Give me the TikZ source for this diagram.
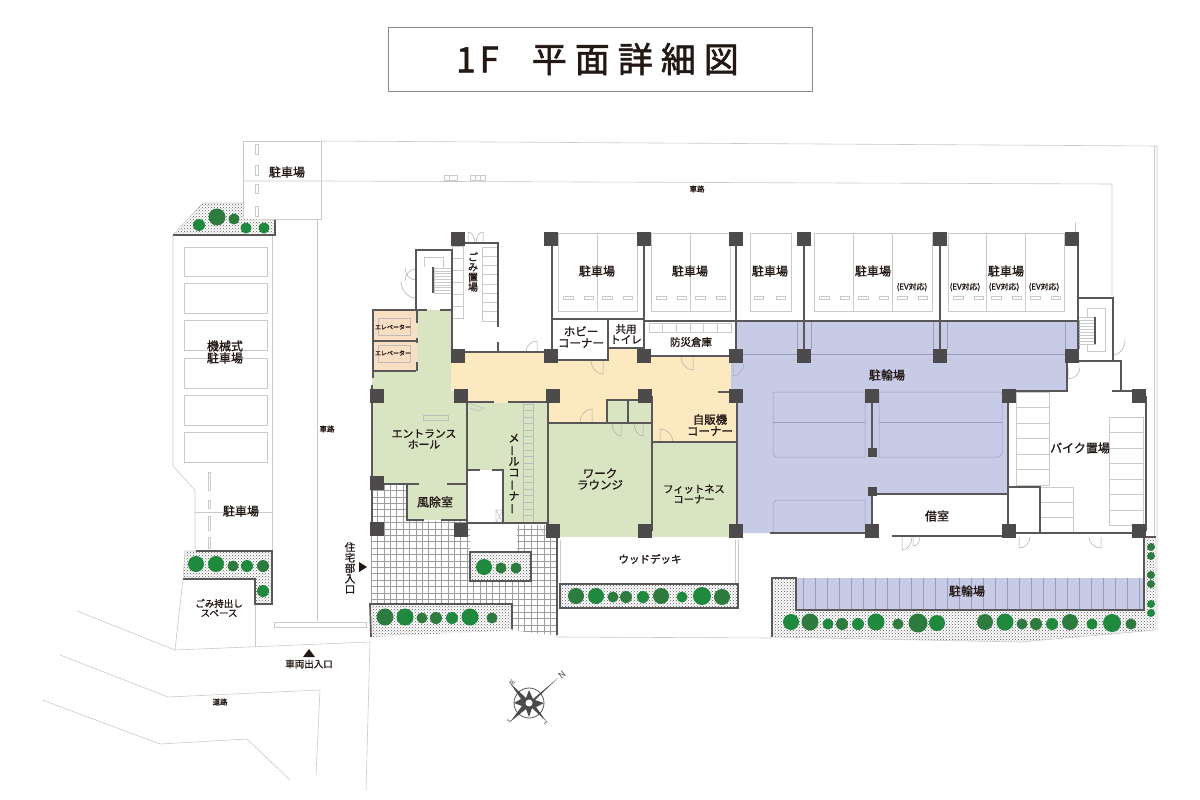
\documentclass[tikz,border=0pt]{standalone}
\usepackage{fontspec}
\usetikzlibrary{patterns}
\setmainfont{Noto Sans CJK JP}
\newfontfamily\jp[FakeBold=1.2]{Noto Sans CJK JP}
\newfontfamily\titlefont[FakeBold=1.6]{Noto Sans CJK JP}
\definecolor{wallc}{HTML}{595757}
\definecolor{pilc}{HTML}{4C4A4A}
\definecolor{lightl}{HTML}{C9CACA}
\definecolor{greenf}{HTML}{D8E4C2}
\definecolor{yellowf}{HTML}{FCE9C0}
\definecolor{peachf}{HTML}{F8DEC2}
\definecolor{lavf}{HTML}{C7CBE5}
\definecolor{lavl}{HTML}{9A9DBB}
\definecolor{treeA}{HTML}{1F8A3D}
\definecolor{treeB}{HTML}{2E7B3F}
\definecolor{ink}{HTML}{231815}
\tikzset{
  wall/.style={draw=wallc,line width=1.7pt},
  thin line/.style={draw=lightl,line width=.6pt},
  doorl/.style={draw=lightl!85!black,line width=.5pt},
  lavline/.style={draw=lavl,line width=.5pt},
  planter/.style={fill=white,postaction={pattern=crosshatch dots,pattern color=gray!70!black}},
  lab/.style={font=\jp\fontsize{#1}{#1}\selectfont,text=ink,align=center,inner sep=0pt},
  lab/.default=12,
}
\newcommand{\pil}[3]{\fill[pilc] ({#1-#3/2},{#2-#3/2}) rectangle ({#1+#3/2},{#2+#3/2});}
\newcommand{\dr}[4]{\draw[doorl] (#1,#2) -- (#1,{#2+#4}) .. controls ({#1+.55*#3},{#2+#4}) and ({#1+#3},{#2+.55*#4}) .. ({#1+#3},#2);}
\newcommand{\vb}{\rotatebox[origin=c]{90}{ー}}
\begin{document}
\begin{tikzpicture}[x=1pt,y=-1pt]
\path[use as bounding box,fill=white] (0,0) rectangle (1200,800);

% title
\node[draw=wallc!70,line width=.7pt,minimum width=424pt,minimum height=64pt,inner sep=0pt] (titlebox) at (600,59) {};
\node[inner sep=0pt,text=ink] (title) at (597.5,59) {\titlefont\fontsize{35}{35}\selectfont 1\hspace{4pt}F\hspace{33pt}平\hspace{8pt}面\hspace{8pt}詳\hspace{8pt}細\hspace{8pt}図};

% site / road light lines
\draw[thin line] (321,141) -- (1157,146) -- (1157,630);
\draw[thin line] (1154,146) -- (1154,537);
\draw[thin line] (243,141) rectangle (321,219);
\draw[thin line] (243,181) -- (321,181) -- (1112,184) -- (1112,298);
\draw[thin line] (1075,222) -- (1075,238);
\foreach \a/\b in {144/154,165/175,184/193,206/216}{\draw[thin line] (255.5,\a) rectangle (258,\b);}
\draw[thin line] (444,175) rectangle (457,180) (449,175)--(449,180);
\draw[thin line] (470,175) rectangle (485,180) (475,175)--(475,180) (480,175)--(480,180);
\draw[thin line] (317,219) -- (317,621);
\draw[thin line] (274,622) rectangle (366,627);
\draw[thin line] (173,235) -- (173,466) -- (195,490) -- (195,551);
\draw[thin line] (272,235) -- (272,551);
\draw[thin line] (195,512.5) -- (272,512.5);
\foreach \a/\b in {247/276,283/313,320/350,358/388,395/425,432/462}{\draw[thin line] (184,\a) rectangle (267,\b);}
\foreach \a/\b in {472/490,500/508,516/530,537/548}{\draw[thin line] (208,\a) rectangle (210,\b);}
\draw[thin line] (183,579) -- (175,650) -- (370,642) -- (366,790);
\draw[thin line] (255,579) -- (255,647);
\draw[thin line] (77,611) -- (175,650);
\draw[thin line] (60,655) -- (168,697) -- (320,690) -- (316,775);
\draw[thin line] (42,700) -- (160,744) -- (247,739) -- (290,780);
\draw[thin line] (557,637) -- (772,638);
\draw[thin line] (560,540) -- (560,582) (735,540) -- (735,584) (738,540) -- (738,584);

% tile
\begin{scope}
\clip (371,484) -- (407,484) -- (407,521) -- (470,521) -- (470,552) -- (517,552) -- (517,525) -- (548,525) -- (548,537) -- (557,537) -- (557,636) -- (512,630) -- (371,637) -- cycle;
\foreach \g in {0,...,30}{\draw[gray!75,line width=.3pt] ({371+\g*6.4},480) -- ({371+\g*6.4},640);}
\foreach \g in {0,...,25}{\draw[gray!75,line width=.3pt] (365,{484+\g*6.4}) -- (560,{484+\g*6.4});}
\end{scope}

% colour areas
\fill[yellowf] (451,352) -- (551,352) -- (551,360) -- (608,360) -- (608,349) -- (644,349) -- (644,356) -- (731,356) -- (731,389) -- (736,389) -- (736,442) -- (652,442) -- (652,423) -- (548,423) -- (548,403) -- (468,403) -- (468,389) -- (451,389) -- cycle;
\fill[greenf] (417,310) -- (451,310) -- (451,391) -- (467,391) -- (467,484) -- (372,484) -- (372,371) -- (417,371) -- cycle;
\fill[peachf] (373,310) rectangle (417,371);
\fill[greenf] (468,403) rectangle (548,523);
\fill[white] (468,470) rectangle (503,523);
\fill[greenf] (548,423) rectangle (652,537);
\fill[greenf] (652,442) rectangle (736,537);
\fill[greenf] (607,400) rectangle (652,423);
\fill[greenf] (407,484) rectangle (467,520);
\fill[lavf] (731,356) -- (737,356) -- (737,321) -- (1078,321) -- (1078,361) -- (1067,361) -- (1067,390) -- (1009,390) -- (1009,494) -- (872,494) -- (872,533) -- (737,533) -- (737,389) -- (731,389) -- cycle;
\fill[lavf] (797,578) rectangle (1144,610);
\foreach \g in {0,...,28}{\draw[lavl,line width=.4pt] ({803+\g*12},578) -- ({803+\g*12},610);}

% lavender details
\draw[lavline] (737,354) -- (1066,354);
\draw[lavline] (773,454) -- (773,392) -- (865,392) -- (865,457) -- (776,457) -- (773,454);
\draw[lavline] (773,422) -- (865,422);
\draw[lavline] (879,392) -- (1002,392) -- (1002,454) -- (999,457) -- (879,457) -- cycle;
\draw[lavline] (879,422) -- (1002,422);
\draw[lavline] (773,533) -- (773,503) -- (776,500) -- (865,500) -- (865,533);
\foreach \a in {804,940,1072}{\draw[lavline] ({\a-7},321) -- ({\a-7},349) ({\a+7},321) -- ({\a+7},349);}
\draw[lavline] (1002,403) -- (1002,390);

% parking bays
\foreach \a/\b in {558/597,597/637,651/690,690/730,750/791,814/853,853/892,892/932,948/986,986/1025,1025/1064}{
  \draw[thin line] (\a,233) rectangle (\b,311);
}
\foreach \a in {558,651,814,853,892,948,986,1025}{
  \draw[thin line] ({\a+5},296) rectangle ({\a+15},299);
  \draw[thin line] ({\a+26},296) rectangle ({\a+35},299);
}
\foreach \a in {597,690}{
  \draw[thin line] ({\a+5},296) rectangle ({\a+15},299);
  \draw[thin line] ({\a+26},296) rectangle ({\a+35},299);
}
\draw[thin line] (754,296) rectangle (763,299) (776,296) rectangle (785,299);

% storage shelves
\draw[thin line] (649,323) rectangle (731,332);
\foreach \g in {1,...,5}{\draw[thin line] ({649+\g*13.6},323) -- ({649+\g*13.6},332);}

% elevators inner
\draw[thin line,draw=wallc!40] (378,318) rectangle (410,335);
\draw[thin line,draw=wallc!40] (378,345) rectangle (410,362);

% stairs NW
\draw[thin line] (434,268) rectangle (452,293);
\foreach \g in {1,...,8}{\draw[thin line] (434,{268+\g*2.8}) -- (452,{268+\g*2.8});}
\draw[thin line] (424,267) -- (424,257) -- (443,257) -- (443,268);
\draw[wall,line width=1.2pt] (433,267) -- (433,293);
% garbage shelves
\draw[thin line] (482,247) rectangle (497,321);
\foreach \g in {1,...,7}{\draw[thin line] (482,{247+\g*9.25}) -- (497,{247+\g*9.25});}
\draw[thin line] (452,246) rectangle (463,318);
\foreach \g in {1,...,5}{\draw[thin line] (452,{246+\g*12}) -- (463,{246+\g*12});}
% mail ladder
\draw[thin line,draw=wallc!40] (523,404) rectangle (533,522);
\foreach \g in {1,...,17}{\draw[thin line,draw=wallc!40] (523,{404+\g*6.55}) -- (533,{404+\g*6.55});}
\draw[thin line] (496,510) rectangle (503,523) (496,510) -- (503,523) (503,510) -- (496,523);
\draw[thin line,draw=wallc!40] (423,415) rectangle (448,420);
\draw[thin line,draw=wallc!40] (470,404) -- (484,408) -- (478,411) -- (470,408);
% NE stairs
\draw[thin line] (1078,317) rectangle (1095,344);
\foreach \g in {1,...,8}{\draw[thin line] (1078,{317+\g*3}) -- (1095,{317+\g*3});}
\draw[thin line] (1087,317) -- (1087,308) -- (1105,308) -- (1105,351) -- (1087,351) -- (1087,344);
\draw[wall,line width=1.2pt] (1095,317) -- (1095,344);
% bike stacks
\draw[thin line] (1016,392) rectangle (1049,485);
\foreach \g in {1,...,5}{\draw[thin line] (1016,{392+\g*15.5}) -- (1049,{392+\g*15.5});}
\draw[thin line] (1109,417) rectangle (1143,525);
\foreach \g in {1,...,6}{\draw[thin line] (1109,{417+\g*15.5}) -- (1143,{417+\g*15.5});}
\draw[thin line] (1040,487) rectangle (1073,533);
\foreach \g in {1,2}{\draw[thin line] (1040,{487+\g*15.2}) -- (1073,{487+\g*15.2});}

% doors
\dr{468}{243}{7}{-11}
\dr{483}{243}{-7}{-11}
\dr{416}{268}{-11}{12}
\dr{416}{281}{-11}{-12}
\dr{416}{281}{-15}{17}
\dr{537}{352}{-11}{-11}
\dr{603}{360}{-12}{14}
\dr{693}{356}{-12}{14}
\dr{592}{423}{-12}{-14}
\dr{621}{423}{-9}{13}
\dr{643}{423}{-9}{13}
\dr{660}{442}{13}{-13}
\dr{733}{363}{11}{13}
\dr{1068}{367}{12}{12}
\dr{1113}{340}{12}{15}
\dr{902}{537}{10}{13}
\dr{913}{537}{7}{9}
\dr{1019}{537}{11}{11}
\dr{1101}{537}{-12}{11}
\draw[thin line] (540,525) .. controls (541,532) and (545,537) .. (551,537);

% planters
\path[planter] (173,235) -- (203,203) -- (243,203) -- (243,219) -- (275,220) -- (275,235) -- cycle;
\draw[thin line] (173,235) -- (203,203) -- (243,203);
\draw[wall] (173,235) -- (275,235) -- (275,220);
\path[planter] (185,551) -- (272,551) -- (272,604) -- (255,604) -- (255,579) -- (183,579) -- cycle;
\draw[wall] (196,551) -- (272,551) -- (272,604) -- (255,604) -- (255,579) -- (183,579);
\draw[thin line] (196,551) -- (185,551) -- (183,579);
\path[planter,wall] (470,552) rectangle (531,581);
\path[planter,wall] (560,584) rectangle (738,608);
\path[planter] (370,604) -- (512,604) -- (512,630) -- (371,637) -- cycle;
\draw[wall] (371,637) -- (370,604) -- (512,604) -- (512,629);
\path[planter] (772,578) -- (796,578) -- (796,610) -- (1144,610) -- (1144,537) -- (1156,537) -- (1156,630) -- (1020,642) -- (772,637) -- cycle;
\draw[wall] (772,637) -- (772,578) -- (796,578) -- (796,610) -- (1144,610) -- (1144,537) -- (1156,537);
\draw[thin line] (772,637) -- (1020,642) -- (1156,630);

% trees
\foreach \x/\y/\r/\c in {217/217/8.5/treeB,199/225/6/treeA,234/219/5.5/treeB,246/228/5.5/treeA,264/228/5.5/treeA,
 196/564/8/treeA,216/564/8/treeA,233/566/5.5/treeB,247/566/6/treeA,263/566/6/treeB,263/591/6/treeA,
 484/567/8/treeA,501/568/5.5/treeB,516/568/5.5/treeB,
 576/596/8/treeB,596/596/8/treeA,613/597/5.5/treeB,626/597/6/treeB,643/597/6/treeA,661/596/8/treeB,682/597/5.5/treeA,702/596/9/treeA,722/597/8/treeB,
 385/617/8.5/treeB,405/617/8.5/treeA,422/618/5.5/treeB,436/618/6/treeB,452/618/6/treeA,470/617/8.5/treeA,492/618/5.5/treeB,
 791/622/8/treeA,810/622/8.5/treeB,828/624/5.5/treeA,842/624/6/treeB,858/624/6/treeA,876/622/8.5/treeA,898/624/5.5/treeB,918/623/9.5/treeB,937/623/8/treeA,
 985/622/8/treeB,1005/622/8.5/treeA,1022/624/5.5/treeB,1036/624/6/treeB,1052/624/6/treeA,1070/622/8/treeB,1092/624/5.5/treeA,1112/623/9/treeA,1131/624/5.5/treeB,
 1151/547/4/treeB,1151/556/4/treeB,1151/575/4/treeB,1151/584/4/treeB,1151/604/4/treeA,1151/613/4/treeA}{
 \fill[\c] (\x,\y) circle (\r pt);
}

% walls
\draw[wall] (416,310) -- (416,250) -- (452,250) -- (452,356);
\draw[wall] (416,310) -- (427,310) (440,310) -- (452,310);
\draw[wall] (465,243) -- (498,243) -- (498,327) (498,342) -- (498,352);
\draw[wall] (458,352) -- (551,352);
\draw[wall] (373,378) -- (373,310) -- (416,310);
\draw[wall] (373,341) -- (416,341);
\draw[wall] (373,371) -- (416,371);
\draw[wall] (417,310) -- (417,323) (417,338) -- (417,343) (417,362) -- (417,371);
\draw[wall] (372,385) -- (372,529);
\draw[wall] (467,396) -- (467,523);
\draw[wall] (377,484) -- (419,484) (447,484) -- (467,484);
\draw[wall] (407,484) -- (407,520) -- (424,520) (441,520) -- (467,520);
\draw[wall] (468,402) -- (494,402) (508,402) -- (546,402);
\draw[wall] (468,470) -- (480,470) (492,470) -- (503,470) -- (503,523);
\draw[wall] (467,523) -- (548,523);
\draw[wall] (548,403) -- (548,531);
\draw[wall] (548,423) -- (652,423);
\draw[wall] (652,396) -- (652,531);
\draw[wall] (607,423) -- (607,400) -- (645,400);
\draw[wall] (628,400) -- (628,423);
\draw[wall] (652,442) -- (736,442);
\draw[wall] (718,392) -- (736,392);
\draw[wall] (552,238) -- (552,360) -- (608,360) -- (608,319);
\draw[wall] (552,319) -- (644,319);
\draw[wall] (608,348) -- (644,348);
\draw[wall] (644,238) -- (644,356);
\draw[wall] (644,321) -- (1078,321);
\draw[wall] (651,356) -- (736,356);
\draw[wall] (736,238) -- (736,356);
\draw[wall] (804,238) -- (804,356);
\draw[wall] (940,238) -- (940,356);
\draw[wall] (1078,238) -- (1078,361);
\draw[wall] (737,396) -- (737,533);
\draw[wall] (1078,298) -- (1113,298) -- (1113,361);
\draw[wall] (1078,361) -- (1121,361) -- (1121,391);
\draw[wall] (1067,361) -- (1067,391) -- (1009,391);
\draw[wall] (1112,391) -- (1132,391);
\draw[wall] (1146,396) -- (1146,531);
\draw[wall] (1008,396) -- (1008,531);
\draw[wall] (872,396) -- (872,452);
\draw[wall] (872,491) -- (872,531);
\draw[wall] (872,494) -- (1008,494);
\draw[wall] (892,536) -- (1008,536);
\draw[wall] (770,533) -- (872,533);
\draw[wall] (1008,487) -- (1040,487) -- (1040,533);
\draw[wall] (1009,533) -- (1139,533);
\draw[wall] (557,533) -- (557,578);
\draw[wall] (557,578) -- (557,635);

% pillars
\foreach \x/\y in {458/239,551/239,644/239,736/239,804/239,940/239,1072/239,
 458/356,551/356,644/356,736/356,804/356,940/356,1072/356,
 377/396,461/396,553/396,645/396,736/396,872/396,1009/396,1139/396,
 377/483,377/529,461/530,553/531,645/531,736/531,872/531,1009/531,1139/531}{\pil{\x}{\y}{14}}
\pil{872.5}{452}{9}
\pil{872.5}{491}{9}

% compass
\draw[wallc,line width=.8pt] (529,703) circle (15pt);
\fill[pilc] (558,678) -- (533,699) -- (529,690) -- (526,698) -- (510,683) -- (521,699) -- (514,703) -- (522,706) -- (510,722) -- (526,709) -- (529,717) -- (532,708) -- (546,721) -- (536,707) -- (544,703) -- (535,700) -- cycle;
\fill[white] (529,703) circle (3.5pt);
\node[rotate=40,inner sep=0pt,text=pilc,font=\fontsize{9}{9}\selectfont] (cn) at (562,675) {N};
\node[rotate=-45,inner sep=0pt,text=pilc,font=\fontsize{6}{6}\selectfont] (cw) at (512,683) {W};
\node[rotate=45,inner sep=0pt,text=pilc,font=\fontsize{5}{5}\selectfont] (cs) at (509,721) {S};
\node[rotate=-45,inner sep=0pt,text=pilc,font=\fontsize{5}{5}\selectfont] (ce) at (546,723) {E};

% arrows
\fill[ink] (309,649) -- (315,657) -- (303,657) -- cycle;
\fill[ink] (359,562) -- (367,567) -- (359,572) -- cycle;

% labels
\node[lab=12] (p1) at (287,172) {駐車場};
\node[lab=7.5] (r1) at (697,189) {車路};
\node[lab=7.5] (r2) at (327,429) {車路};
\node[lab=12] (p2) at (225,352) {機械式\\駐車場};
\node[lab=12] (p3) at (241,511) {駐車場};
\node[lab=9.5] (g1) at (219,608) {ごみ持出し\\スペース};
\node[lab=9.5] (v1) at (309,664) {車両出入口};
\node[lab=7.5] (d1) at (220,702) {道路};
\node[lab=10.5,text width=11pt] (e1) at (350,568) {住\\宅\\部\\入\\口};
\node[lab=10,text width=11pt] (g2) at (473,272) {ご\\み\\置\\場};
\node[lab=12] (p4) at (597,271) {駐車場};
\node[lab=12] (p5) at (690,271) {駐車場};
\node[lab=12] (p6) at (770,271) {駐車場};
\node[lab=12] (p7) at (873,271) {駐車場};
\node[lab=12] (p8) at (1006,271) {駐車場};
\node[lab=8] (ev1) at (912,287) {(EV対応)};
\node[lab=8] (ev2) at (965,287) {(EV対応)};
\node[lab=8] (ev3) at (1004,287) {(EV対応)};
\node[lab=8] (ev4) at (1044,287) {(EV対応)};
\node[lab=11.5] (h1) at (581,337) {ホビー\\コーナー};
\node[lab=10.5] (t1) at (626,334) {共用\\トイレ};
\node[lab=10.5] (s1) at (691,342) {防災倉庫};
\node[lab=12] (b1) at (887,375) {駐輪場};
\node[lab=11.5] (j1) at (710,425) {自販機\\コーナー};
\node[lab=10.8] (n1) at (424,439) {エントランス\\ホール};
\node[lab=11,text width=12pt] (m1) at (514,474) {メ\\\vb\\ル\\コ\\\vb\\ナ\\\vb};
\node[lab=12] (f1) at (435,502) {風除室};
\node[lab=11.5] (w1) at (600,479) {ワーク\\ラウンジ};
\node[lab=10.3] (f2) at (694,494) {フィットネス\\コーナー};
\node[lab=10.5] (w2) at (650,559) {ウッドデッキ};
\node[lab=12] (k1) at (937,516) {借室};
\node[lab=12] (b2) at (1080,448) {バイク置場};
\node[lab=12] (b3) at (967,591) {駐輪場};
\node[lab=6] (el1) at (393,327) {エレベーター};
\node[lab=6] (el2) at (393,353) {エレベーター};
\end{tikzpicture}
\end{document}
